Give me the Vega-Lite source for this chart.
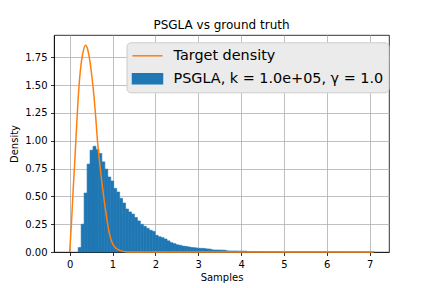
{
  "$schema": "https://vega.github.io/schema/vega-lite/v6.json",
  "autosize": "none",
  "width": 335,
  "height": 217,
  "padding": {"left": 54, "top": 35, "right": 43, "bottom": 36},
  "background": "white",
  "title": {"text": "PSGLA vs ground truth", "fontSize": 12, "fontWeight": "normal", "offset": 3, "font": "DejaVu Sans", "color": "black"},
  "datasets": {
    "hist": [
      {"x0": 0.1870, "x1": 0.2561, "density": 0.04},
      {"x0": 0.2561, "x1": 0.3252, "density": 0.25},
      {"x0": 0.3252, "x1": 0.3943, "density": 0.53},
      {"x0": 0.3943, "x1": 0.4634, "density": 0.79},
      {"x0": 0.4634, "x1": 0.5325, "density": 0.915},
      {"x0": 0.5325, "x1": 0.6016, "density": 0.95},
      {"x0": 0.6016, "x1": 0.6707, "density": 0.92},
      {"x0": 0.6707, "x1": 0.7398, "density": 0.885},
      {"x0": 0.7398, "x1": 0.8089, "density": 0.81},
      {"x0": 0.8089, "x1": 0.8780, "density": 0.745},
      {"x0": 0.8780, "x1": 0.9471, "density": 0.674},
      {"x0": 0.9471, "x1": 1.0162, "density": 0.638},
      {"x0": 1.0162, "x1": 1.0853, "density": 0.572},
      {"x0": 1.0853, "x1": 1.1544, "density": 0.539},
      {"x0": 1.1544, "x1": 1.2235, "density": 0.482},
      {"x0": 1.2235, "x1": 1.2926, "density": 0.44},
      {"x0": 1.2926, "x1": 1.3617, "density": 0.386},
      {"x0": 1.3617, "x1": 1.4308, "density": 0.36},
      {"x0": 1.4308, "x1": 1.4999, "density": 0.341},
      {"x0": 1.4999, "x1": 1.5690, "density": 0.31},
      {"x0": 1.5690, "x1": 1.6381, "density": 0.279},
      {"x0": 1.6381, "x1": 1.7072, "density": 0.249},
      {"x0": 1.7072, "x1": 1.7763, "density": 0.231},
      {"x0": 1.7763, "x1": 1.8454, "density": 0.213},
      {"x0": 1.8454, "x1": 1.9145, "density": 0.195},
      {"x0": 1.9145, "x1": 1.9836, "density": 0.185},
      {"x0": 1.9836, "x1": 2.0527, "density": 0.15},
      {"x0": 2.0527, "x1": 2.1218, "density": 0.137},
      {"x0": 2.1218, "x1": 2.1909, "density": 0.129},
      {"x0": 2.1909, "x1": 2.2600, "density": 0.117},
      {"x0": 2.2600, "x1": 2.3291, "density": 0.10},
      {"x0": 2.3291, "x1": 2.3982, "density": 0.084},
      {"x0": 2.3982, "x1": 2.4673, "density": 0.075},
      {"x0": 2.4673, "x1": 2.5364, "density": 0.065},
      {"x0": 2.5364, "x1": 2.6055, "density": 0.06},
      {"x0": 2.6055, "x1": 2.6746, "density": 0.053},
      {"x0": 2.6746, "x1": 2.7437, "density": 0.05},
      {"x0": 2.7437, "x1": 2.8128, "density": 0.045},
      {"x0": 2.8128, "x1": 2.8819, "density": 0.04},
      {"x0": 2.8819, "x1": 2.9510, "density": 0.038},
      {"x0": 2.9510, "x1": 3.0201, "density": 0.034},
      {"x0": 3.0201, "x1": 3.0892, "density": 0.033},
      {"x0": 3.0892, "x1": 3.1583, "density": 0.032},
      {"x0": 3.1583, "x1": 3.2274, "density": 0.028},
      {"x0": 3.2274, "x1": 3.2965, "density": 0.026},
      {"x0": 3.2965, "x1": 3.3656, "density": 0.019},
      {"x0": 3.3656, "x1": 3.4347, "density": 0.018},
      {"x0": 3.4347, "x1": 3.5038, "density": 0.018},
      {"x0": 3.5038, "x1": 3.5729, "density": 0.017},
      {"x0": 3.5729, "x1": 3.6420, "density": 0.016},
      {"x0": 3.6420, "x1": 3.7111, "density": 0.010},
      {"x0": 3.7111, "x1": 3.7802, "density": 0.009},
      {"x0": 3.7802, "x1": 3.8493, "density": 0.009},
      {"x0": 3.8493, "x1": 3.9184, "density": 0.009},
      {"x0": 3.9184, "x1": 3.9875, "density": 0.008},
      {"x0": 3.9875, "x1": 4.0566, "density": 0.008},
      {"x0": 4.0566, "x1": 4.1257, "density": 0.008},
      {"x0": 4.1257, "x1": 4.1948, "density": 0.004},
      {"x0": 4.1948, "x1": 4.2639, "density": 0.003},
      {"x0": 4.2639, "x1": 4.3330, "density": 0.003},
      {"x0": 4.3330, "x1": 4.4021, "density": 0.003},
      {"x0": 4.4021, "x1": 4.4712, "density": 0.002},
      {"x0": 4.4712, "x1": 4.5403, "density": 0.002},
      {"x0": 4.5403, "x1": 4.6094, "density": 0.002},
      {"x0": 4.6094, "x1": 4.6785, "density": 0.002},
      {"x0": 4.6785, "x1": 4.7476, "density": 0.001},
      {"x0": 4.7476, "x1": 4.8167, "density": 0.001},
      {"x0": 4.8167, "x1": 4.8858, "density": 0.001},
      {"x0": 4.8858, "x1": 4.9549, "density": 0.001},
      {"x0": 4.9549, "x1": 5.0240, "density": 0.001},
      {"x0": 5.0240, "x1": 5.0931, "density": 0.001},
      {"x0": 5.0931, "x1": 5.1622, "density": 0.0008},
      {"x0": 5.1622, "x1": 5.2313, "density": 0.0008},
      {"x0": 5.2313, "x1": 5.3004, "density": 0.0007},
      {"x0": 5.3004, "x1": 5.3695, "density": 0.0007},
      {"x0": 5.3695, "x1": 5.4386, "density": 0.0006},
      {"x0": 5.4386, "x1": 5.5077, "density": 0.0006},
      {"x0": 5.5077, "x1": 5.5768, "density": 0.0005},
      {"x0": 5.5768, "x1": 5.6459, "density": 0.0005},
      {"x0": 5.6459, "x1": 5.7150, "density": 0.0004},
      {"x0": 5.7150, "x1": 5.7841, "density": 0.0004},
      {"x0": 5.7841, "x1": 5.8532, "density": 0.0004},
      {"x0": 5.8532, "x1": 5.9223, "density": 0.0003},
      {"x0": 5.9223, "x1": 5.9914, "density": 0.0003},
      {"x0": 5.9914, "x1": 6.0605, "density": 0.0003},
      {"x0": 6.0605, "x1": 6.1296, "density": 0.0003},
      {"x0": 6.1296, "x1": 6.1987, "density": 0.0003},
      {"x0": 6.1987, "x1": 6.2678, "density": 0.0001},
      {"x0": 6.2678, "x1": 6.3369, "density": 0.0003},
      {"x0": 6.3369, "x1": 6.4060, "density": 0.0001},
      {"x0": 6.4060, "x1": 6.4751, "density": 0.0001},
      {"x0": 6.4751, "x1": 6.5442, "density": 0.0001},
      {"x0": 6.5442, "x1": 6.6133, "density": 0.0001},
      {"x0": 6.6133, "x1": 6.6824, "density": 0.0},
      {"x0": 6.6824, "x1": 6.7515, "density": 0.0001},
      {"x0": 6.7515, "x1": 6.8206, "density": 0.0},
      {"x0": 6.8206, "x1": 6.8897, "density": 0.0001},
      {"x0": 6.8897, "x1": 6.9588, "density": 0.0},
      {"x0": 6.9588, "x1": 7.0279, "density": 0.0},
      {"x0": 7.0279, "x1": 7.0970, "density": 0.0001}
    ],
    "line": [
      {"x": 0.0, "density": 0.0},
      {"x": 0.04, "density": 0.25},
      {"x": 0.08, "density": 0.55},
      {"x": 0.117, "density": 0.80},
      {"x": 0.16, "density": 1.12},
      {"x": 0.195, "density": 1.36},
      {"x": 0.23, "density": 1.55},
      {"x": 0.27, "density": 1.70},
      {"x": 0.32, "density": 1.81},
      {"x": 0.373, "density": 1.857},
      {"x": 0.42, "density": 1.82},
      {"x": 0.47, "density": 1.72},
      {"x": 0.52, "density": 1.57},
      {"x": 0.568, "density": 1.395},
      {"x": 0.61, "density": 1.20},
      {"x": 0.646, "density": 1.01},
      {"x": 0.70, "density": 0.80},
      {"x": 0.75, "density": 0.63},
      {"x": 0.80, "density": 0.48},
      {"x": 0.85, "density": 0.34},
      {"x": 0.90, "density": 0.22},
      {"x": 0.95, "density": 0.13},
      {"x": 1.0, "density": 0.075},
      {"x": 1.05, "density": 0.045},
      {"x": 1.1, "density": 0.028},
      {"x": 1.2, "density": 0.01},
      {"x": 1.3, "density": 0.003},
      {"x": 1.5, "density": 0.0005},
      {"x": 2.0, "density": 0.0},
      {"x": 4.0, "density": 0.0},
      {"x": 7.097, "density": 0.0}
    ]
  },
  "layer": [
    {
      "data": {"name": "hist"},
      "mark": {"type": "bar", "binSpacing": 0, "stroke": "#1f77b4", "strokeWidth": 0.6},
      "encoding": {
        "x": {"field": "x0", "type": "quantitative", "bin": {"binned": true, "step": 0.0691}, "title": "Samples",
              "scale": {"domain": [-0.366, 7.452], "nice": false, "zero": false},
              "axis": {"values": [0, 1, 2, 3, 4, 5, 6, 7], "format": "d", "titlePadding": 3}},
        "x2": {"field": "x1"},
        "y": {"field": "density", "type": "quantitative", "stack": null, "title": "Density",
              "scale": {"domain": [0, 1.95], "nice": false},
              "axis": {"values": [0, 0.25, 0.5, 0.75, 1.0, 1.25, 1.5, 1.75], "format": ".2f", "titlePadding": 5, "labelOverlap": false}},
        "color": {"datum": "PSGLA, k = 1.0e+05, γ = 1.0", "type": "nominal"}
      }
    },
    {
      "data": {"name": "line"},
      "mark": {"type": "line", "strokeWidth": 1.5, "interpolate": "monotone"},
      "encoding": {
        "x": {"field": "x", "type": "quantitative", "title": "Samples",
              "scale": {"domain": [-0.366, 7.452], "nice": false, "zero": false},
              "axis": {"values": [0, 1, 2, 3, 4, 5, 6, 7], "format": "d", "titlePadding": 3}},
        "y": {"field": "density", "type": "quantitative", "title": "Density",
              "scale": {"domain": [0, 1.95], "nice": false},
              "axis": {"values": [0, 0.25, 0.5, 0.75, 1.0, 1.25, 1.5, 1.75], "format": ".2f", "titlePadding": 5, "labelOverlap": false}},
        "color": {"datum": "Target density", "type": "nominal",
          "scale": {"domain": ["Target density", "PSGLA, k = 1.0e+05, γ = 1.0"], "range": ["#ff7f0e", "#1f77b4"]},
          "legend": {
            "title": null,
            "orient": "none",
            "legendX": 72.5,
            "legendY": 7.3,
            "zindex": 2,
            "padding": 5,
            "rowPadding": 8,
            "labelOffset": 25,
            "labelFontSize": 14.4,
            "labelFont": "DejaVu Sans",
            "labelColor": "black",
            "labelLimit": 400,
            "fillColor": "#ebebeb",
            "strokeColor": "#cccccc",
            "cornerRadius": 4,
            "symbolSize": 225,
            "encode": {
              "symbols": {
                "update": {
                  "shape": {"signal": "datum.value === 'Target density' ? 'M-1,0H3' : 'M-1,-0.667H3V0.667H-1Z'"},
                  "fill": {"signal": "datum.value === 'Target density' ? 'transparent' : '#1f77b4'"},
                  "stroke": {"signal": "datum.value === 'Target density' ? '#ff7f0e' : 'transparent'"},
                  "strokeWidth": {"value": 1.5},
                  "size": {"value": 225},
                  "opacity": {"value": 1}
                }
              }
            }
          }
        }
      }
    }
  ],
  "config": {
    "font": "DejaVu Sans",
    "view": {"stroke": "black", "strokeWidth": 0.8},
    "axis": {
      "zindex": 1,
      "labelFontSize": 10,
      "titleFontSize": 10,
      "titleFontWeight": "normal",
      "labelColor": "black",
      "titleColor": "black",
      "labelFont": "DejaVu Sans",
      "titleFont": "DejaVu Sans",
      "tickColor": "black",
      "tickSize": 3.5,
      "tickWidth": 0.8,
      "labelPadding": 3.5,
      "domainColor": "black",
      "domainWidth": 0.8,
      "grid": true,
      "gridColor": "#b0b0b0",
      "gridWidth": 0.8
    }
  }
}
